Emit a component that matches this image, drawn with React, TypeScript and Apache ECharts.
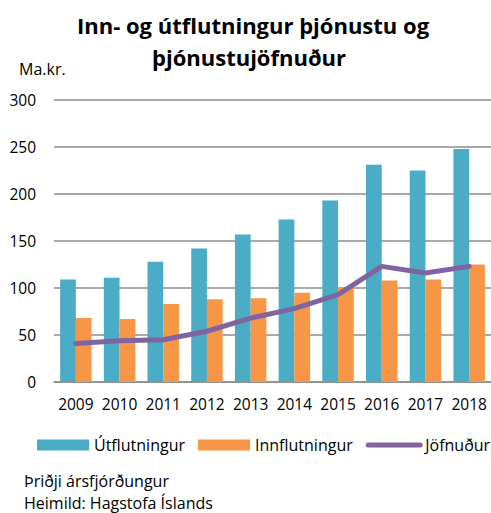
import React, { useEffect, useRef } from "react";
import * as echarts from "echarts";

const years = ["2009", "2010", "2011", "2012", "2013", "2014", "2015", "2016", "2017", "2018"];
const exportsVals = [109, 111, 128, 142, 157, 173, 193, 231, 225, 248];
const importsVals = [68, 67, 83, 88, 89, 95, 100, 108, 109, 125];
const balanceVals = [41, 44, 45, 54, 68, 78, 93, 123, 116, 123];
const seriesNames = ["Útflutningur", "Innflutningur", "Jöfnuður"];
const titleLines = ["Inn- og útflutningur þjónustu og", "þjónustujöfnuður"];
const unitLabel = "Ma.kr.";
const footLines = ["Þriðji ársfjórðungur", "Heimild: Hagstofa Íslands"];

const FONT = "'Open Sans', sans-serif";

export default function App() {
  const ref = useRef<HTMLDivElement>(null);
  useEffect(() => {
    if (!ref.current) return;
    const chart = echarts.init(ref.current, undefined, { renderer: "svg" });
    const txt = (text: string, x: number, y: number, size: number, bold = false, align = "left") => ({
      type: "text",
      x,
      y,
      style: {
        text,
        fontFamily: FONT,
        fontWeight: bold ? "bold" : "normal",
        fontSize: size,
        fill: "#000",
        textAlign: align,
        textVerticalAlign: "middle",
      },
    });
    chart.setOption({
      animation: false,
      backgroundColor: "#ffffff",
      textStyle: { fontFamily: FONT },
      graphic: [
        txt(titleLines[0], 253, 25, 22, true, "center"),
        txt(titleLines[1], 249, 57, 22, true, "center"),
        txt(unitLabel, 19, 69, 16),
        txt(footLines[0], 24, 481, 16),
        txt(footLines[1], 24, 503, 16),
      ],
      legend: {
        left: 32,
        top: 432,
        width: 700,
        itemWidth: 52,
        itemHeight: 11,
        itemGap: 13,
        textStyle: { fontFamily: FONT, fontSize: 16, color: "#000" },
        data: [
          { name: seriesNames[0], icon: "rect" },
          { name: seriesNames[1], icon: "rect" },
          {
            name: seriesNames[2],
            itemStyle: { opacity: 0 },
            lineStyle: { width: 5, cap: "round", color: "#8064a2" },
          },
        ],
      },
      grid: { left: 54, right: 0, top: 100, bottom: 131, containLabel: false },
      xAxis: {
        type: "category",
        data: years,
        axisTick: { show: false },
        axisLine: { lineStyle: { color: "#8c8c8c", width: 1.5 } },
        axisLabel: { fontFamily: FONT, fontSize: 15.5, color: "#000", margin: 14, interval: 0 },
      },
      yAxis: {
        type: "value",
        min: 0,
        max: 300,
        interval: 50,
        axisLine: { show: false },
        axisTick: { show: false },
        splitLine: { lineStyle: { color: "#8c8c8c", width: 1.5 } },
        axisLabel: { fontFamily: FONT, fontSize: 15.5, color: "#000", margin: 18 },
      },
      series: [
        {
          name: seriesNames[0],
          type: "bar",
          data: exportsVals,
          barWidth: "36%",
          barGap: "0%",
          barCategoryGap: "28%",
          itemStyle: { color: "#4bacc6" },
        },
        {
          name: seriesNames[1],
          type: "bar",
          data: importsVals,
          barWidth: "36%",
          barGap: "0%",
          itemStyle: { color: "#f79646" },
        },
        {
          name: seriesNames[2],
          type: "line",
          data: balanceVals,
          symbol: "none",
          z: 5,
          lineStyle: { color: "#8064a2", width: 5, cap: "round", join: "round" },
          itemStyle: { color: "#8064a2" },
        },
      ],
    });
    return () => chart.dispose();
  }, []);
  return (
    <div
      ref={ref}
      style={{ position: "absolute", left: 0, top: 0, width: 491, height: 513 }}
    />
  );
}
